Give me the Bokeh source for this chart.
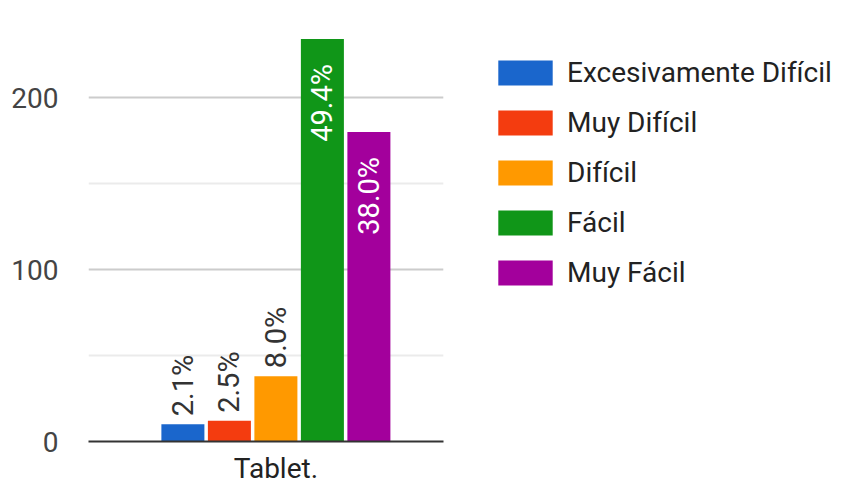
from bokeh.plotting import figure
from bokeh.models import Range1d, FixedTicker, Legend, LegendItem
from bokeh.core.properties import value
from bokeh.embed import file_html
from bokeh.resources import INLINE
import math

categories = ["Excesivamente Difícil", "Muy Difícil", "Difícil", "Fácil", "Muy Fácil"]
counts = [10, 12, 38, 234, 180]
percent_labels = ["2.1%", "2.5%", "8.0%", "49.4%", "38.0%"]
colors = ["#1a66cc", "#f43c0f", "#ff9900", "#109618", "#a3009c"]
group_label = "Tablet."
y_ticks = [0, 100, 200]
y_minor = [50, 150]

FONT = "Roboto"
PX_PER_UNIT = 46.5
X0, X1 = -2.03, 5.60          # extent of the chart area (data units)
FRAME_W = 841 - 88

p = figure(width=841, height=487, output_backend="svg", toolbar_location=None,
           x_range=Range1d(X0, X0 + FRAME_W / PX_PER_UNIT), y_range=Range1d(0, 421 / 1.72),
           min_border_left=88, min_border_right=0, min_border_top=20, min_border_bottom=46)
p.outline_line_color = None
p.background_fill_color = "white"
p.border_fill_color = "white"
p.xgrid.grid_line_color = None
p.ygrid.grid_line_color = None

# grid lines limited to the chart area
p.segment(x0=[X0] * len(y_minor), x1=[X1] * len(y_minor), y0=y_minor, y1=y_minor,
          line_color="#ebebeb", line_width=2)
p.segment(x0=[X0] * 2, x1=[X1] * 2, y0=y_ticks[1:], y1=y_ticks[1:],
          line_color="#cccccc", line_width=2)

xs = list(range(len(categories)))
renderers = []
for i in xs:
    r = p.vbar(x=[xs[i]], top=[counts[i]], width=0.925, fill_color=colors[i], line_color=None)
    renderers.append(r)

# labels
out_idx = [i for i in xs if counts[i] < 100]
in_idx = [i for i in xs if counts[i] >= 100]
p.text(x=[xs[i] for i in out_idx], y=[counts[i] for i in out_idx], text=[percent_labels[i] for i in out_idx],
       angle=math.pi / 2, text_align="left", text_baseline="middle", y_offset=-8,
       text_font=value(FONT), text_font_size="29px", text_color="#333333")
p.text(x=[xs[i] for i in in_idx], y=[counts[i] for i in in_idx], text=[percent_labels[i] for i in in_idx],
       angle=math.pi / 2, text_align="right", text_baseline="middle", y_offset=25,
       text_font=value(FONT), text_font_size="29px", text_color="white")

# axes
p.yaxis.ticker = FixedTicker(ticks=y_ticks, minor_ticks=y_minor)
p.yaxis.axis_line_color = None
p.yaxis.major_tick_line_color = None
p.yaxis.minor_tick_line_color = None
p.yaxis.major_tick_out = 0
p.yaxis.major_tick_in = 0
p.yaxis.major_label_text_font = FONT
p.yaxis.major_label_text_font_size = "28px"
p.yaxis.major_label_text_color = "#444444"
p.yaxis.major_label_standoff = 26

p.xaxis.ticker = FixedTicker(ticks=[2])
p.xaxis.bounds = (X0, X1)
p.xaxis.major_label_overrides = {2: group_label}
p.xaxis.axis_line_color = "#333333"
p.xaxis.axis_line_width = 2
p.xaxis.major_tick_line_color = None
p.xaxis.minor_tick_line_color = None
p.xaxis.major_tick_out = 0
p.xaxis.major_tick_in = 0
p.xaxis.minor_tick_out = 0
p.xaxis.major_label_text_font = FONT
p.xaxis.major_label_text_font_size = "28px"
p.xaxis.major_label_text_color = "#222222"
p.xaxis.major_label_standoff = 10

items = [LegendItem(label=categories[i], renderers=[renderers[i]]) for i in xs]
legend = Legend(items=items, location=(403, 152), orientation="vertical")
legend.label_text_font = FONT
legend.label_text_font_size = "28px"
legend.label_text_color = "#222222"
legend.glyph_width = 68
legend.glyph_height = 31
legend.label_height = 31
legend.label_standoff = 8
legend.spacing = 17
legend.padding = 0
legend.margin = 0
legend.border_line_color = None
legend.background_fill_alpha = 0
p.add_layout(legend, "center")

open("out.html", "w").write(file_html(p, INLINE))
